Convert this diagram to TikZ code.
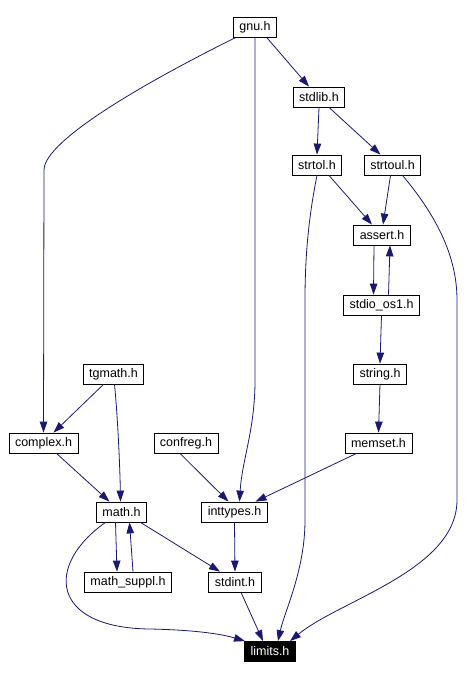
\documentclass[tikz,border=0pt]{standalone}
\usepackage{fontspec}
\setmainfont{Liberation Sans}
\usetikzlibrary{arrows.meta}
\definecolor{navy}{HTML}{191970}

\begin{document}
\begin{tikzpicture}[x=1pt,y=-1pt,
  hdr/.style={draw=black,line width=0.8pt,fill=white,inner xsep=6pt,inner ysep=0pt,minimum height=20pt,font=\fontsize{12.5}{14}\selectfont},
  cur/.style={hdr,fill=black,text=white},
  dep/.style={navy,line width=0.8pt,-{Triangle[length=11pt,width=7.5pt]}}]
\useasboundingbox (0,0) rectangle (476,678);
\node[hdr] (gnu) at (255,27.5) {gnu.h};
\node[hdr] (stdlib) at (319,97) {stdlib.h};
\node[hdr] (strtol) at (317,165) {strtol.h};
\node[hdr] (strtoul) at (392.5,165) {strtoul.h};
\node[hdr] (assert) at (382,235) {assert.h};
\node[hdr] (stdioos) at (381.5,305) {stdio\_os1.h};
\node[hdr] (string) at (380,374) {string.h};
\node[hdr] (tgmath) at (113.5,374) {tgmath.h};
\node[hdr] (complex) at (43.5,443) {complex.h};
\node[hdr] (confreg) at (186,443) {confreg.h};
\node[hdr] (memset) at (378.5,443) {memset.h};
\node[hdr] (math) at (121.5,512) {math.h};
\node[hdr] (inttypes) at (234.5,512) {inttypes.h};
\node[hdr] (mathsuppl) at (128,582) {math\_suppl.h};
\node[hdr] (stdint) at (235,582) {stdint.h};
\node[cur] (limits) at (270,651.5) {limits.h};
\draw[dep] (gnu.south east) ++(-10,0) -- ([xshift=-10pt]stdlib.north);
\draw[dep] (gnu.south west) ++(2,0) .. controls (150,80) and (44,140) .. (44,170) -- (complex.north);
\draw[dep] (gnu.south) -- (255,380) .. controls (255,430) and (242,460) .. ([xshift=5pt]inttypes.north);
\draw[dep] (stdlib.south) -- (strtol.north);
\draw[dep] ([xshift=10pt]stdlib.south) -- ([xshift=-12pt]strtoul.north);
\draw[dep] ([xshift=12pt]strtol.south) -- ([xshift=-10pt]assert.north);
\draw[dep] ([xshift=-2pt]strtoul.south) -- ([xshift=1pt]assert.north);
\draw[dep] (strtol.south) .. controls (308,220) and (305,260) .. (305,300) -- (305,520) .. controls (305,570) and (285,610) .. ([xshift=8pt]limits.north);
\draw[dep] ([xshift=10pt]strtoul.south) .. controls (440,220) and (457,260) .. (457,300) -- (457,500) .. controls (457,570) and (340,600) .. ([xshift=20pt]limits.north);
\draw[dep] ([xshift=-8pt]assert.south) -- ([xshift=-8pt]stdioos.north);
\draw[dep] ([xshift=7pt]stdioos.north) -- ([xshift=8pt]assert.south);
\draw[dep] (stdioos.south) -- (string.north);
\draw[dep] (string.south) -- (memset.north);
\draw[dep] ([xshift=-10pt]tgmath.south) -- ([xshift=10pt]complex.north);
\draw[dep] ([xshift=1pt]tgmath.south) .. controls (118,420) and (120,470) .. ([xshift=-1pt]math.north);
\draw[dep] ([xshift=13pt]complex.south) -- ([xshift=-12pt]math.north);
\draw[dep] ([xshift=-6pt]confreg.south) -- ([xshift=-6pt]inttypes.north);
\draw[dep] ([xshift=-22pt]memset.south) -- ([xshift=21pt]inttypes.north);
\draw[dep] (inttypes.south) -- (stdint.north);
\draw[dep] ([xshift=-6pt]math.south) -- ([xshift=-11pt]mathsuppl.north);
\draw[dep] ([xshift=5pt]mathsuppl.north) -- ([xshift=8pt]math.south);
\draw[dep] ([xshift=19pt]math.south) -- ([xshift=-15pt]stdint.north);
\draw[dep] ([xshift=-16pt]math.south) .. controls (45,565) and (50,628) .. (150,629) .. controls (200,630) and (225,635) .. ([xshift=-25pt]limits.north);
\draw[dep] ([xshift=6pt]stdint.south) -- ([xshift=-7pt]limits.north);
\end{tikzpicture}
\end{document}
